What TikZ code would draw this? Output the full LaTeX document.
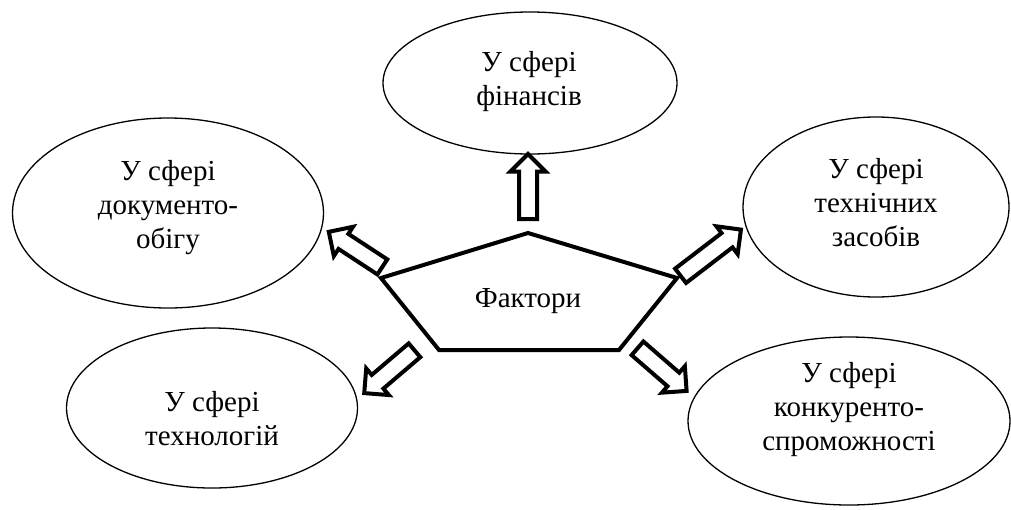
\documentclass[tikz,border=0pt]{standalone}
\usepackage{fontspec}
\setmainfont{Liberation Serif}
\usetikzlibrary{shapes.geometric,shapes.arrows}
\tikzset{
  sfera/.style={ellipse,draw,line width=1.3pt,inner sep=0pt},
  napys/.style={align=center,inner sep=0pt,font=\fontsize{29}{34}\selectfont},
  strilka/.style={single arrow,draw,fill=white,line width=4pt,sloped,allow upside down,pos=0,anchor=tail,
    inner sep=7pt,minimum width=0pt,single arrow head extend=8.5pt,minimum height=#1},
}
\begin{document}
\begin{tikzpicture}[x=1pt,y=-1pt]
\useasboundingbox (0,0) rectangle (1011,509);
\node[sfera,minimum width=294pt,minimum height=142pt](fin) at (530,83){};
\node[sfera,minimum width=311pt,minimum height=190pt](doc) at (168,213){};
\node[sfera,minimum width=266pt,minimum height=180pt](tekh) at (876,207){};
\node[sfera,minimum width=291pt,minimum height=160pt](tekhn) at (212,408){};
\node[sfera,minimum width=322pt,minimum height=168pt](konk) at (849,421){};
\node[napys](fint) at (529,82){У сфері\\фінансів};
\node[napys](doct) at (168,208){У сфері\\документо-\\обігу};
\node[napys](tekht) at (876,203){У сфері\\технічних\\засобів};
\node[napys](tekhnt) at (212,419){У сфері\\технологій};
\node[napys](konkt) at (849,410){У сфері\\конкуренто-\\спроможності};
\coordinate(a1) at (528,221);\coordinate(b1) at (528,152);
\coordinate(a2) at (384,268);\coordinate(b2) at (326,230);
\coordinate(a3) at (679,277);\coordinate(b3) at (743,228);
\coordinate(a4) at (416,349);\coordinate(b4) at (362,395);
\coordinate(a5) at (636,347);\coordinate(b5) at (689,393);
\path(a1)--node[strilka=65pt]{}(b1);
\path(a2)--node[strilka=64pt]{}(b2);
\path(a3)--node[strilka=76pt]{}(b3);
\path(a4)--node[strilka=66pt]{}(b4);
\path(a5)--node[strilka=65pt]{}(b5);
\coordinate(p1) at (528,233);
\coordinate(p2) at (677,278);
\coordinate(p3) at (619,350);
\coordinate(p4) at (439,350);
\coordinate(p5) at (381,278);
\draw[line width=4pt](p1)--(p2)--(p3)--(p4)--(p5)--cycle;
\node[napys](fakt) at (528,301){Фактори};
\end{tikzpicture}
\end{document}
